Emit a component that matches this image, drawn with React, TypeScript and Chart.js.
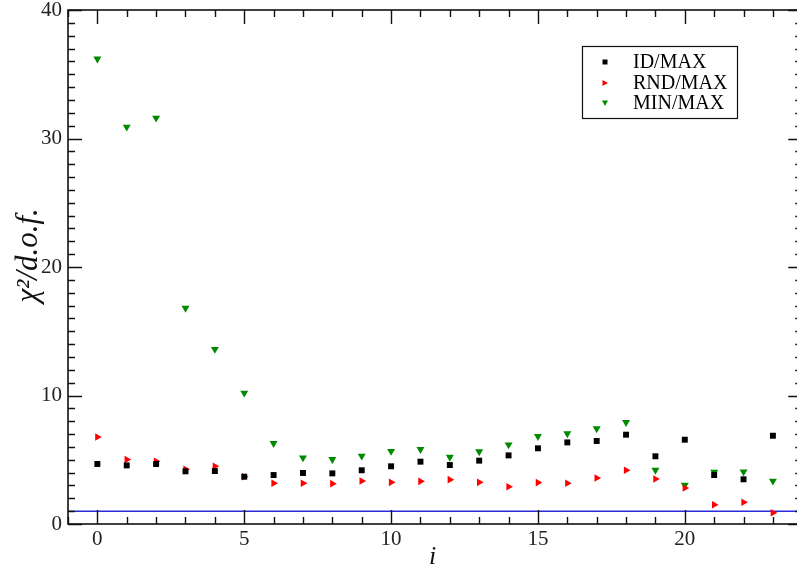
import React, { useEffect, useRef } from "react";
import { Chart, registerables } from "chart.js";

Chart.register(...registerables);

const indices = [0, 1, 2, 3, 4, 5, 6, 7, 8, 9, 10, 11, 12, 13, 14, 15, 16, 17, 18, 19, 20, 21, 22, 23];
const idMax = [4.67, 4.56, 4.67, 4.1, 4.12, 3.68, 3.81, 3.97, 3.94, 4.18, 4.49, 4.85, 4.59, 4.93, 5.34, 5.89, 6.35, 6.46, 6.95, 5.27, 6.56, 3.81, 3.48, 6.87];
const rndMax = [6.77, 5.01, 4.88, 4.26, 4.49, 3.68, 3.17, 3.17, 3.14, 3.35, 3.24, 3.32, 3.45, 3.24, 2.9, 3.22, 3.17, 3.58, 4.18, 3.5, 2.8, 1.5, 1.69, 0.88];
const minMax = [36.2, 30.9, 31.6, 16.8, 13.6, 10.2, 6.28, 5.16, 5.03, 5.29, 5.66, 5.81, 5.21, 5.63, 6.17, 6.82, 7.03, 7.42, 7.91, 4.2, 3.03, 4.05, 4.07, 3.35];
const seriesLabels = ["ID/MAX", "RND/MAX", "MIN/MAX"];
const referenceLevel = 1;
// visible x window (frame's right side at x = 24 lies just beyond the picture)
const xRange = [-1, 23.82];
const xFrameMax = 24;
const yRange = [0, 40];
const xTickValues = [0, 5, 10, 15, 20];
const yTickValues = [0, 10, 20, 30, 40];
const xMinorStep = 1;
const yMinorStep = 1;

const FONT = "'Liberation Serif', 'DejaVu Serif', serif";

const frameTicksPlugin = {
  id: "frameTicks",
  afterDraw(chart: any) {
    const { ctx, chartArea, scales } = chart;
    const xs = scales.x;
    const ys = scales.y;
    const { left, top, bottom } = chartArea;
    const right = xs.getPixelForValue(xFrameMax);
    ctx.save();
    ctx.strokeStyle = "#111";
    ctx.lineWidth = 1.6;
    ctx.strokeRect(left, top, right - left, bottom - top);
    ctx.lineWidth = 1.4;
    const major = 14;
    const minor = 7;
    ctx.beginPath();
    for (let v = Math.ceil(xRange[0]); v < xFrameMax; v += xMinorStep) {
      const px = Math.round(xs.getPixelForValue(v)) + 0.5;
      const len = v % 5 === 0 ? major : minor;
      ctx.moveTo(px, bottom);
      ctx.lineTo(px, bottom - len);
      ctx.moveTo(px, top);
      ctx.lineTo(px, top + len);
    }
    for (let v = yRange[0]; v <= yRange[1]; v += yMinorStep) {
      const py = Math.round(ys.getPixelForValue(v)) + 0.5;
      const len = v % 10 === 0 ? major : minor;
      ctx.moveTo(left, py);
      ctx.lineTo(left + len, py);
      ctx.moveTo(right, py);
      ctx.lineTo(right - len, py);
    }
    ctx.stroke();

    // legend
    const bx = 582, by = 46, bw = 155, bh = 72;
    ctx.fillStyle = "#fff";
    ctx.fillRect(bx, by, bw, bh);
    ctx.lineWidth = 1.2;
    ctx.strokeStyle = "#111";
    ctx.strokeRect(bx + 0.5, by + 0.5, bw, bh);
    const rows = [62, 83, 103];
    const colors = ["#000000", "#ff0000", "#008a00"];
    ctx.font = `20px ${FONT}`;
    ctx.textBaseline = "middle";
    ctx.textAlign = "left";
    seriesLabels.forEach((lab, i) => {
      const cy = rows[i];
      const cx = 605;
      ctx.fillStyle = colors[i];
      ctx.beginPath();
      if (i === 0) {
        ctx.rect(cx - 2.5, cy - 2.5, 5, 5);
      } else if (i === 1) {
        ctx.moveTo(cx - 2.5, cy - 3);
        ctx.lineTo(cx + 3, cy);
        ctx.lineTo(cx - 2.5, cy + 3);
        ctx.closePath();
      } else {
        ctx.moveTo(cx - 3, cy - 2.5);
        ctx.lineTo(cx + 3, cy - 2.5);
        ctx.lineTo(cx, cy + 3);
        ctx.closePath();
      }
      ctx.fill();
      ctx.fillStyle = "#000";
      ctx.fillText(lab, 633, cy + 1);
    });
    ctx.restore();
  },
};

export default function App() {
  const ref = useRef<HTMLCanvasElement | null>(null);
  useEffect(() => {
    document.body.style.margin = "0";
    document.body.style.overflow = "hidden";
    const canvas = ref.current!;
    const chart = new Chart(canvas, {
      type: "scatter",
      data: {
        datasets: [
          {
            label: "ref",
            data: [
              { x: xRange[0], y: referenceLevel },
              { x: xFrameMax, y: referenceLevel },
            ],
            showLine: true,
            borderColor: "#2b2bdc",
            borderWidth: 1.5,
            pointRadius: 0,
            order: 10,
          },
          {
            label: seriesLabels[0],
            data: indices.map((x, i) => ({ x, y: idMax[i] })),
            pointStyle: "rect",
            pointRadius: 4.2,
            backgroundColor: "#000",
            borderColor: "#000",
            borderWidth: 0,
          },
          {
            label: seriesLabels[1],
            data: indices.map((x, i) => ({ x, y: rndMax[i] })),
            pointStyle: "triangle",
            rotation: 90,
            pointRadius: 4.4,
            backgroundColor: "#ff0000",
            borderColor: "#ff0000",
            borderWidth: 0,
          },
          {
            label: seriesLabels[2],
            data: indices.map((x, i) => ({ x, y: minMax[i] })),
            pointStyle: "triangle",
            rotation: 180,
            pointRadius: 4.6,
            backgroundColor: "#008a00",
            borderColor: "#008a00",
            borderWidth: 0,
          },
        ],
      },
      options: {
        responsive: false,
        maintainAspectRatio: false,
        animation: false,
        devicePixelRatio: 1,
        layout: { autoPadding: false, padding: { top: 10, right: 0, left: 0, bottom: 0 } },
        plugins: { legend: { display: false }, tooltip: { enabled: false } },
        scales: {
          x: {
            type: "linear",
            min: xRange[0],
            max: xRange[1],
            grid: { display: false, drawTicks: false },
            border: { display: false },
            afterBuildTicks: (s: any) => {
              s.ticks = xTickValues.map((v) => ({ value: v }));
            },
            afterFit: (s: any) => {
              s.height = 49;
              s.paddingLeft = 0;
              s.paddingRight = 0;
            },
            ticks: {
              autoSkip: false,
              maxRotation: 0,
              padding: 3,
              color: "#222",
              font: { family: FONT, size: 21 },
            },
            title: {
              display: true,
              text: "i",
              color: "#111",
              font: { family: FONT, size: 26, style: "italic" },
              padding: { top: 0, bottom: 0 },
            },
          },
          y: {
            type: "linear",
            min: yRange[0],
            max: yRange[1],
            grid: { display: false, drawTicks: false },
            border: { display: false },
            afterBuildTicks: (s: any) => {
              s.ticks = yTickValues.map((v) => ({ value: v }));
            },
            afterFit: (s: any) => {
              s.width = 68;
              s.paddingTop = 0;
              s.paddingBottom = 0;
            },
            ticks: {
              padding: 6,
              color: "#222",
              font: { family: FONT, size: 21 },
            },
            title: {
              display: true,
              text: "   χ²/d.o.f.",
              color: "#111",
              font: { family: FONT, size: 31, style: "italic" },
              padding: { top: 10, bottom: 10 },
            },
          },
        },
      },
      plugins: [frameTicksPlugin],
    } as any);
    return () => chart.destroy();
  }, []);
  return (
    <div style={{ width: 797, height: 573, overflow: "hidden", background: "#fff" }}>
      <canvas ref={ref} width={797} height={573} style={{ display: "block" }} />
    </div>
  );
}
